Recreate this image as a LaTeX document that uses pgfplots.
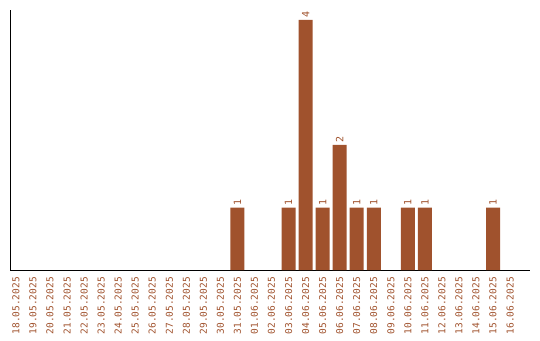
\documentclass[border=0pt]{standalone}
\usepackage{pgfplots}
\pgfplotsset{compat=1.18}
\usepackage{fontspec}
\setmainfont{DejaVu Sans Mono}
\definecolor{barc}{HTML}{A0522D}
\begin{document}
\begin{tikzpicture}[x=1pt,y=1pt]
\path[use as bounding box] (0,0) rectangle (540,340);
\begin{axis}[
  at={(10pt,70pt)}, anchor=south west,
  scale only axis, width=520pt, height=260pt,
  axis x line*=bottom, axis y line*=left,
  axis line style={line width=1pt, black},
  xmin=-0.35, xmax=30.17, ymin=0, ymax=4.16,
  ytick=\empty,
  xtick={0,...,29},
  xticklabels={18.05.2025,19.05.2025,20.05.2025,21.05.2025,22.05.2025,23.05.2025,24.05.2025,25.05.2025,26.05.2025,27.05.2025,28.05.2025,29.05.2025,30.05.2025,31.05.2025,01.06.2025,02.06.2025,03.06.2025,04.06.2025,05.06.2025,06.06.2025,07.06.2025,08.06.2025,09.06.2025,10.06.2025,11.06.2025,12.06.2025,13.06.2025,14.06.2025,15.06.2025,16.06.2025},
  major tick length=0pt,
  xticklabel style={rotate=90, anchor=east, inner sep=0pt, font=\fontsize{9.5}{10}\selectfont, text=barc},
  xticklabel shift=7pt,
  ybar, bar width=14pt, bar shift=0pt,
  nodes near coords,
  every node near coord/.append style={rotate=90, anchor=west, inner sep=2pt, font=\fontsize{10}{11}\selectfont, text=barc, /pgf/number format/assume math mode=true},
  clip=false,
]
\addplot[fill=barc, draw=none] coordinates {
(13,1) (16,1) (17,4) (18,1) (19,2) (20,1) (21,1) (23,1) (24,1) (28,1)
};
\end{axis}
\end{tikzpicture}
\end{document}
